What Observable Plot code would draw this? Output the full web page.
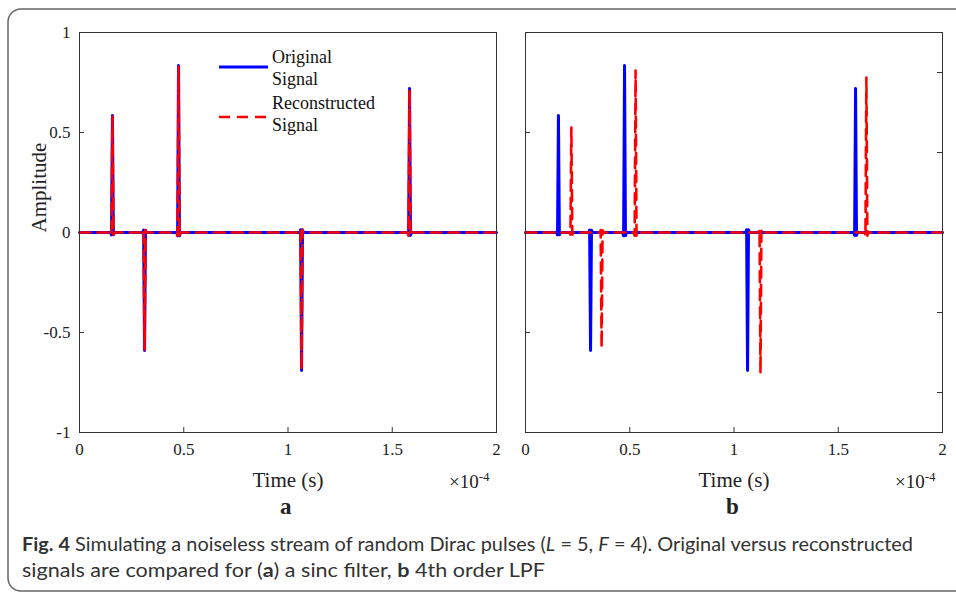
<!DOCTYPE html>
<html>
<head>
<meta charset="utf-8">
<script src="https://cdn.jsdelivr.net/npm/d3@7"></script>
<script src="https://cdn.jsdelivr.net/npm/@observablehq/plot@0.6"></script>
<style>
  html, body { margin: 0; padding: 0; background: #fff; }
  #root { position: relative; width: 956px; height: 592px; overflow: hidden; font-family: "Liberation Serif", serif; color: #222; }
  .abs { position: absolute; }
  .panel { position: absolute; top: 0; }
  .exp { position: absolute; font-size: 19px; }
  .exp sup { font-size: 13px; vertical-align: 0; position: relative; top: -7px; }
  .sub { position: absolute; font-size: 23px; font-weight: bold; }
</style>
</head>
<body>
<div id="root">
  <svg class="abs" width="956" height="592" style="left:0;top:0" id="border">
    <path d="M 960 9 H 21 A 13 13 0 0 0 8 22 V 578 A 13 13 0 0 0 21 591 H 960" fill="none" stroke="#666" stroke-width="1.5"/>
  </svg>
  <div class="panel" id="pa" style="left:0px"></div>
  <div class="panel" id="pb" style="left:511px"></div>
  <div class="exp" style="left:449px;top:471px">×10<sup>-4</sup></div>
  <div class="exp" style="left:895px;top:471px">×10<sup>-4</sup></div>
  <div class="sub" style="left:280px;top:494px">a</div>
  <div class="sub" style="left:726px;top:494px">b</div>
  <svg class="abs" width="200" height="90" style="left:210px;top:45px" id="legend">
    <line x1="9" x2="58" y1="22" y2="22" stroke="#0000ff" stroke-width="3"/>
    <text x="62" y="18" font-size="18" fill="#111">Original</text>
    <text x="62" y="40" font-size="18" fill="#111">Signal</text>
    <line x1="9" x2="58" y1="72" y2="72" stroke="#ff0000" stroke-width="2.6" stroke-dasharray="11,7"/>
    <text x="62" y="64" font-size="18" fill="#111">Reconstructed</text>
    <text x="62" y="86" font-size="18" fill="#111">Signal</text>
  </svg>
  <svg class="abs" width="956" height="70" style="left:0;top:525px" id="caption">
    <text x="22" y="26" font-family="Lato,'Noto Sans',sans-serif" font-size="18.5" fill="#333" textLength="891" lengthAdjust="spacingAndGlyphs"><tspan font-weight="bold">Fig. 4</tspan>  Simulating a noiseless stream of random Dirac pulses (<tspan font-style="italic">L</tspan> = 5, <tspan font-style="italic">F</tspan> = 4). Original versus reconstructed</text>
    <text x="22" y="52" font-family="Lato,'Noto Sans',sans-serif" font-size="18.5" fill="#333" textLength="523" lengthAdjust="spacingAndGlyphs">signals are compared for (<tspan font-weight="bold">a</tspan>) a sinc filter, <tspan font-weight="bold">b</tspan> 4th order LPF</text>
  </svg>
</div>
<script>
// ---- data (time in units of 1e-4 s) ----
const origTimes = [0.158, 0.312, 0.475, 1.065, 1.583];
const origAmps  = [0.585, -0.59, 0.835, -0.69, 0.72];
const recATimes = [0.158, 0.312, 0.475, 1.065, 1.583];
const recAAmps  = [0.58, -0.585, 0.83, -0.685, 0.715];
const recBTimes = [0.22, 0.365, 0.528, 1.127, 1.635];
const recBAmps  = [0.525, -0.575, 0.81, -0.705, 0.775];
const xTicks = [0, 0.5, 1, 1.5, 2];
const yTicks = [1, 0.5, 0, -0.5, -1];
const yTicksRightB = [0.8, 0.4, 0, -0.4, -0.8];
const tStart = 0, tEnd = 2;

// Build a pulse-train polyline from pulse times and amplitudes
function train(times, amps) {
  const pts = [{t: tStart, v: 0}];
  const w = 0.009;
  times.forEach((t, i) => {
    const a = amps[i];
    pts.push({t: t - w, v: 0});
    pts.push({t: t - w * 0.5, v: -0.02 * a});
    pts.push({t: t - w * 0.25, v: 0.5 * a});
    pts.push({t: t, v: a});
    pts.push({t: t + w * 0.25, v: 0.5 * a});
    pts.push({t: t + w * 0.5, v: -0.02 * a});
    pts.push({t: t + w, v: 0});
  });
  pts.push({t: tEnd, v: 0});
  return pts;
}

const fmt = d => String(d);
const frameColor = "#333";

function panel({width, marginLeft, marginRight, showY, orig, rec, leftTicks, rightTicks}) {
  const tk = 0.024; // tick length in x data units (~5px)
  const tkY = 0.025; // tick length in y data units (~5px)
  const marks = [
    Plot.ruleX(xTicks, {x: d => d, y1: -1, y2: -1 + tkY, stroke: frameColor}),
    Plot.ruleY(leftTicks, {y: d => d, x1: 0, x2: tk, stroke: frameColor}),
    Plot.ruleY(rightTicks, {y: d => d, x1: 2 - tk, x2: 2, stroke: frameColor}),
    Plot.line(orig, {x: "t", y: "v", stroke: "#0000ff", strokeWidth: 3, curve: "linear", strokeLinejoin: "round"}),
    Plot.line(rec, {x: "t", y: "v", stroke: "#ff0000", strokeWidth: 2.6, strokeDasharray: "11,7", curve: "linear", strokeLinejoin: "round"}),
    Plot.frame({stroke: frameColor, strokeWidth: 1}),
    Plot.axisX(xTicks, {tickSize: 0, tickPadding: 10, tickFormat: fmt, fontSize: 17, label: null}),
    Plot.text(["Time (s)"], {frameAnchor: "bottom", dy: 54, fontSize: 21, fill: "#222"})
  ];
  if (showY) {
    marks.push(Plot.axisY(yTicks, {tickSize: 0, tickPadding: 9, tickFormat: fmt, fontSize: 17, label: null}));
    marks.push(Plot.text(["Amplitude"], {frameAnchor: "left", dx: -40, rotate: -90, fontSize: 21, fill: "#222"}));
  }
  return Plot.plot({
    width, height: 520,
    marginLeft, marginRight, marginTop: 32, marginBottom: 88,
    style: {fontFamily: "'Liberation Serif', serif", fontSize: "17px", color: "#222", background: "transparent"},
    x: {domain: [0, 2], ticks: xTicks, axis: null},
    y: {domain: [-1, 1], ticks: yTicks, axis: null},
    marks
  });
}

document.getElementById("pa").append(panel({
  width: 510, marginLeft: 79, marginRight: 14, showY: true,
  orig: train(origTimes, origAmps), rec: train(recATimes, recAAmps),
  leftTicks: yTicks, rightTicks: []
}));
document.getElementById("pb").append(panel({
  width: 445, marginLeft: 14, marginRight: 14, showY: false,
  orig: train(origTimes, origAmps), rec: train(recBTimes, recBAmps),
  leftTicks: yTicks, rightTicks: yTicksRightB
}));
</script>
</body>
</html>
